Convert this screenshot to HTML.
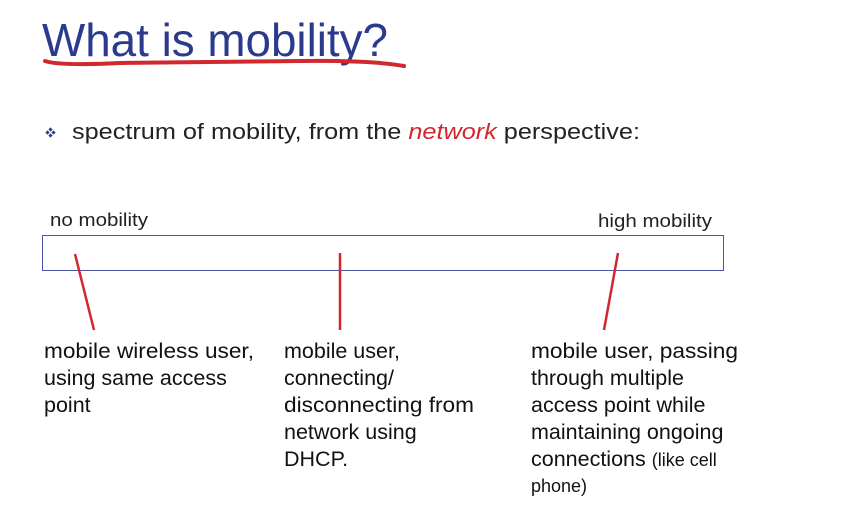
<!DOCTYPE html>
<html><head><meta charset="utf-8"><style>
html,body{margin:0;padding:0;background:#fff;}
svg{display:block;}
text{font-family:"Liberation Sans",sans-serif;}
</style></head><body>
<svg width="843" height="510" xmlns="http://www.w3.org/2000/svg">
<text x="42" y="56" font-size="46" fill="#2b3a8c" textLength="346" lengthAdjust="spacingAndGlyphs">What is mobility?</text>
<path d="M45 61 Q60 66 120 63 L300 61 Q370 60 404 66" stroke="#d0282e" stroke-width="4" fill="none" stroke-linecap="round"/>
<g fill="#2b3a8c"><rect x="46" y="131" width="3" height="3" transform="rotate(45 47.5 132.5)"/><rect x="52" y="131" width="3" height="3" transform="rotate(45 53.5 132.5)"/><rect x="49" y="128" width="3" height="3" transform="rotate(45 50.5 129.5)"/><rect x="49" y="134" width="3" height="3" transform="rotate(45 50.5 135.5)"/></g>
<text x="72" y="139" font-size="22" fill="#222" textLength="568" lengthAdjust="spacingAndGlyphs">spectrum of mobility, from the <tspan fill="#d0282e" font-style="italic">network</tspan> perspective:</text>
<text x="50" y="226" font-size="18" fill="#222" textLength="98" lengthAdjust="spacingAndGlyphs">no mobility</text>
<text x="598" y="227" font-size="18" fill="#222" textLength="114" lengthAdjust="spacingAndGlyphs">high mobility</text>
<rect x="42.5" y="235.5" width="681" height="35" fill="none" stroke="#4a55a8" stroke-width="1"/>
<g stroke="#d0282e" stroke-width="2.5"><line x1="75" y1="254" x2="94" y2="330"/><line x1="340" y1="253" x2="340" y2="330"/><line x1="618" y1="253" x2="604" y2="330"/></g>
<g font-size="21.5" fill="#111">
<text x="44" y="358" textLength="210" lengthAdjust="spacingAndGlyphs">mobile wireless user,</text><text x="44" y="385">using same access</text><text x="44" y="412">point</text>
<text x="284" y="358">mobile user,</text><text x="284" y="385">connecting/</text><text x="284" y="412" textLength="190" lengthAdjust="spacingAndGlyphs">disconnecting from</text><text x="284" y="439">network using</text><text x="284" y="466">DHCP.</text>
<text x="531" y="358" textLength="207" lengthAdjust="spacingAndGlyphs">mobile user, passing</text><text x="531" y="385">through multiple</text><text x="531" y="412">access point while</text><text x="531" y="439">maintaining ongoing</text><text x="531" y="466">connections <tspan font-size="18">(like cell</tspan></text><text x="531" y="492" font-size="18">phone)</text>
</g>
</svg>
</body></html>
